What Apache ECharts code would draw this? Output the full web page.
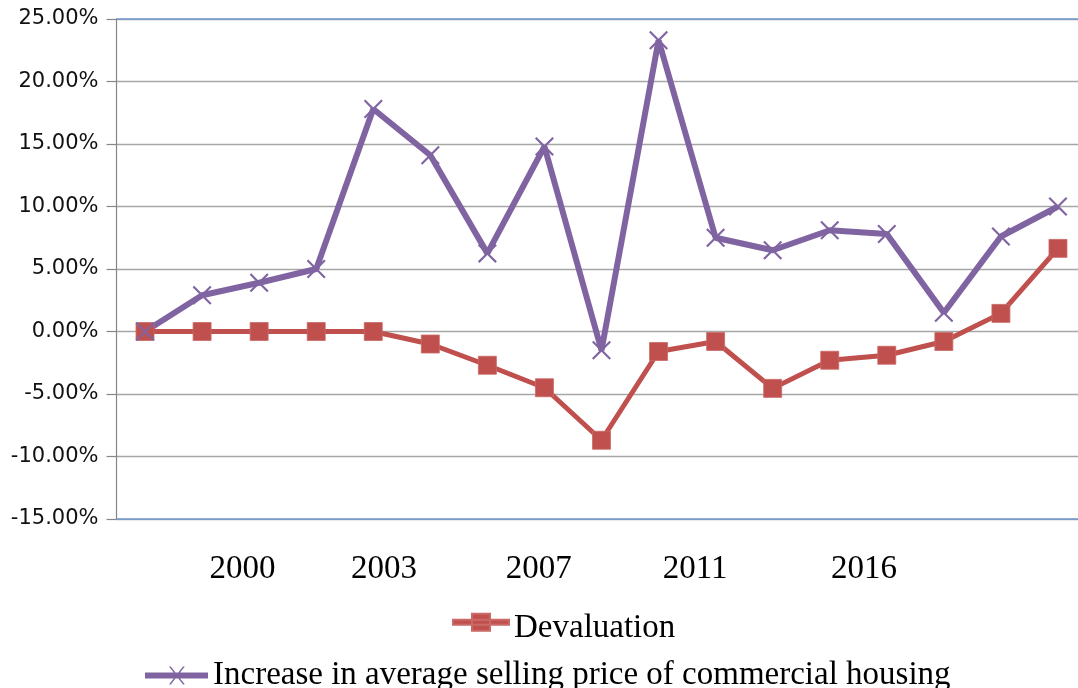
<!DOCTYPE html>
<html>
<head>
<meta charset="utf-8">
<script src="https://cdn.jsdelivr.net/npm/echarts@6/dist/echarts.min.js"></script>
<style>
html,body{margin:0;padding:0;background:#fff;}
#chart{width:1078px;height:688px;}
</style>
</head>
<body>
<div id="chart"></div>
<script>
// ---- data ----
const categories = ['1','2','3','4','5','6','7','8','9','10','11','12','13','14','15','16','17'];
const devaluation = [0, 0, 0, 0, 0, -1.0, -2.7, -4.5, -8.7, -1.6, -0.8, -4.55, -2.3, -1.9, -0.8, 1.45, 6.65];
const priceIncrease = [0, 2.9, 3.9, 5.0, 17.8, 14.1, 6.25, 14.8, -1.5, 23.3, 7.5, 6.5, 8.1, 7.8, 1.5, 7.6, 10.0];
const yearLabels = ['2000', '2003', '2007', '2011', '2016'];
const yearLabelAt = [2.21, 4.69, 7.40, 10.14, 13.10]; // in category units along the axis
const seriesNames = ['Devaluation', 'Increase in average selling price of commercial housing'];

// marker / legend icon shapes
const xMark = 'path://M0,1.6 L1.6,0 L10,8.4 L18.4,0 L20,1.6 L11.6,10 L20,18.4 L18.4,20 L10,11.6 L1.6,20 L0,18.4 L8.4,10 Z';
const redIcon = 'path://M0,6.5 L56,6.5 L56,11.5 L0,11.5 Z M19,0.5 L37,0.5 L37,17.5 L19,17.5 Z M0,30 L0.01,30 L0,30 Z';
const purpleIcon = 'path://M0,6 L63,6 L63,12 L0,12 Z M24,0 L25.8,0 L39.8,18 L38,18 Z M38,0 L39.8,0 L25.8,18 L24,18 Z';

const chart = echarts.init(document.getElementById('chart'), null, {renderer: 'canvas'});
const serif = '"Liberation Serif", "Times New Roman", serif';

chart.setOption({
  animation: false,
  backgroundColor: '#ffffff',
  grid: {left: 116.5, top: 19, width: 970, height: 500, containLabel: false, outerBoundsMode: 'none'},
  legend: [
    {
      data: [{name: seriesNames[0], icon: redIcon, itemStyle: {color: '#c0504d'}}],
      left: 452, top: 612, orient: 'horizontal',
      itemWidth: 56, itemHeight: 30, padding: 0,
      textStyle: {fontFamily: serif, fontSize: 33, color: '#000'}
    },
    {
      data: [{name: seriesNames[1], icon: purpleIcon, itemStyle: {color: '#8064a2'}}],
      left: 145, top: 659, orient: 'horizontal',
      itemWidth: 63, itemHeight: 18, padding: 0,
      textStyle: {fontFamily: serif, fontSize: 33, color: '#000'}
    }
  ],
  xAxis: [
    {
      type: 'category', data: categories, boundaryGap: true, position: 'bottom',
      axisLine: {show: true, onZero: false, lineStyle: {color: '#6f98d0', width: 1.5}},
      axisTick: {show: false}, axisLabel: {show: false}, splitLine: {show: false}
    },
    {
      type: 'value', min: 0, max: 17, position: 'bottom',
      axisLine: {show: false, onZero: false}, axisTick: {show: false}, splitLine: {show: false},
      axisLabel: {
        show: true, customValues: yearLabelAt, margin: 34,
        fontFamily: serif, fontSize: 33, color: '#000',
        formatter: function (v) { const i = yearLabelAt.indexOf(v); return i >= 0 ? yearLabels[i] : ''; }
      }
    },
    {
      type: 'category', data: categories, position: 'top',
      axisLine: {show: true, onZero: false, lineStyle: {color: '#6f98d0', width: 1.5}},
      axisTick: {show: false}, axisLabel: {show: false}, splitLine: {show: false}
    }
  ],
  yAxis: {
    type: 'value', min: -15, max: 25, interval: 5,
    axisLine: {show: true, lineStyle: {color: '#868686', width: 1.2}},
    axisTick: {show: true, inside: false, length: 10, lineStyle: {color: '#868686', width: 1.2}},
    splitLine: {show: true, lineStyle: {color: '#a6a6a6', width: 1.4}},
    axisLabel: {
      margin: 18, fontFamily: '"DejaVu Sans", sans-serif', fontSize: 21, color: '#111',
      formatter: function (v) { return v.toFixed(2) + '%'; }
    }
  },
  series: [
    {
      name: seriesNames[0], type: 'line', data: devaluation, xAxisIndex: 0,
      symbol: 'rect', symbolSize: 18, showAllSymbol: true,
      lineStyle: {color: '#c0504d', width: 5},
      itemStyle: {color: '#c0504d', borderColor: '#c96a67', borderWidth: 0.8}
    },
    {
      name: seriesNames[1], type: 'line', data: priceIncrease, xAxisIndex: 0,
      symbol: xMark, symbolSize: 19, showAllSymbol: true,
      lineStyle: {color: '#8064a2', width: 6},
      itemStyle: {color: '#8064a2'}
    }
  ]
});
</script>
</body>
</html>
